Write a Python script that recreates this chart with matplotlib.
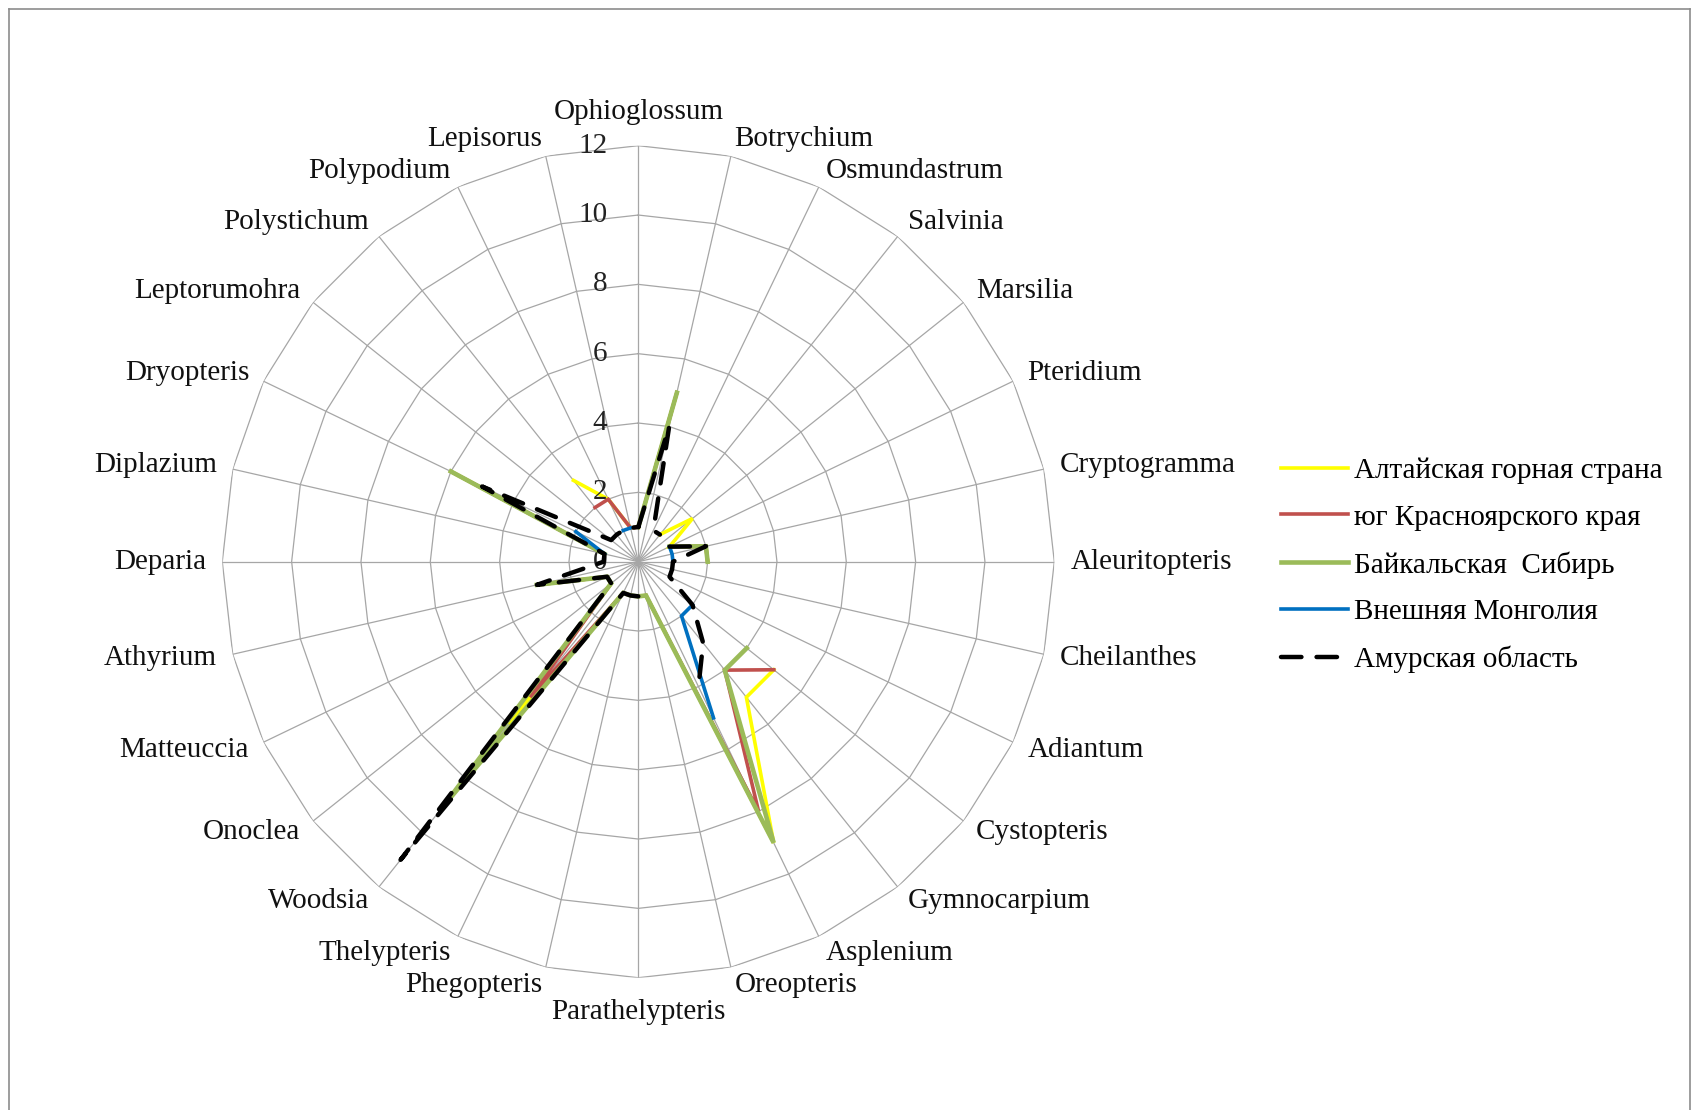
import numpy as np
import matplotlib.pyplot as plt
from matplotlib.lines import Line2D

plt.rcParams['font.family'] = ['Liberation Serif', 'DejaVu Serif']

nan = np.nan

genera = ['Ophioglossum', 'Botrychium', 'Osmundastrum', 'Salvinia', 'Marsilia',
          'Pteridium', 'Cryptogramma', 'Aleuritopteris', 'Cheilanthes', 'Adiantum',
          'Cystopteris', 'Gymnocarpium', 'Asplenium', 'Oreopteris', 'Parathelypteris',
          'Phegopteris', 'Thelypteris', 'Woodsia', 'Onoclea', 'Matteuccia',
          'Athyrium', 'Deparia', 'Diplazium', 'Dryopteris', 'Leptorumohra',
          'Polystichum', 'Polypodium', 'Lepisorus']

altai = [1, 5, nan, 1, 2, 1, 2, 2, nan, nan, 5, 5, 9, 1, 1, 1, 1, 6, 1, 1,
         3, nan, 1, 6, nan, 3, 2, 1]
krasnoyarsk = [1, 5, nan, nan, nan, 1, 2, 2, nan, nan, 5, 4, 8, 1, 1, 1, 1, 5, 1, 1,
               3, nan, 1, 6, nan, 2, 2, 1]
baikal = [1, 5, nan, nan, nan, 1, 2, 2, nan, nan, 4, 4, 9, 1, 1, 1, 1, 9, 1, 1,
          3, nan, 1, 6, nan, nan, nan, nan]
mongolia = [nan, nan, nan, nan, nan, 1, 1, 1, nan, nan, 2, 2, 5, nan, nan, nan, nan, nan, nan, nan,
            nan, nan, 1, 2, nan, nan, 1, 1]
amur = [1, 4, 1, 1, nan, 1, 2, 1, 1, 1, 2, 3, 4, nan, 1, 1, 1, 11, 1, 1,
        3, 1, 1, 5, 1, 1, 1, 1]

series_names = ['Алтайская горная страна', 'юг Красноярского края', 'Байкальская  Сибирь',
                'Внешняя Монголия', 'Амурская область']
r_ticks = [0, 2, 4, 6, 8, 10, 12]

W, H = 1692, 1110
fig = plt.figure(figsize=(W / 100, H / 100), dpi=100)

# chart border
for xs, ys in [([0.0055, 0.0055], [0.0, 0.992]), ([0.0055, 0.999], [0.992, 0.992]),
               ([0.999, 0.999], [0.0, 0.992])]:
    fig.add_artist(Line2D(xs, ys, color='#8c8c8c', lw=1.2, transform=fig.transFigure))

cx, cy, rad = 638.3, 561.7, 416
ax = fig.add_axes([(cx - rad) / W, (H - cy - rad) / H, 2 * rad / W, 2 * rad / H],
                  projection='polar')
ax.set_theta_zero_location('N')
ax.set_theta_direction(-1)
ax.set_ylim(0, 12)
ax.grid(False)
ax.set_xticks([])
ax.set_yticks([])
ax.spines['polar'].set_visible(False)
ax.patch.set_alpha(0)

n = len(genera)
theta = np.arange(n) * 2 * np.pi / n
theta_c = np.append(theta, theta[0])

grid_col = '#a6a6a6'
for r in r_ticks[1:]:
    ax.plot(theta_c, [r] * (n + 1), color=grid_col, lw=0.9, zorder=1)
for t in theta:
    ax.plot([t, t], [0, 12], color=grid_col, lw=0.9, zorder=1)

fs = 21
for r in r_ticks:
    ax.annotate(str(r), (0, r), xytext=(-31, 0), textcoords='offset pixels',
                ha='right', va='center', fontsize=fs, color='#222222')

for t, name in zip(theta, genera):
    s, c = np.sin(t), np.cos(t)
    if abs(s) < 0.01:
        ha = 'center'
        va = 'bottom' if c > 0 else 'top'
        off = (0, 21 * np.sign(c))
    else:
        ha = 'left' if s > 0 else 'right'
        va = 'center'
        off = (16 * s, 18 * c)
    ax.annotate(name, (t, 12), xytext=off, textcoords='offset pixels',
                ha=ha, va=va, fontsize=fs, color='#111111')

def closed(v):
    v = list(v)
    return v + [v[0]]

styles = [
    (altai, '#ffff00', 2.6, '-', 2),
    (krasnoyarsk, '#c0504d', 2.6, '-', 3),
    (baikal, '#9bbb59', 3.3, '-', 4),
    (mongolia, '#0070c0', 2.6, '-', 5),
    (amur, '#000000', 3.2, (0, (4.6, 3.4)), 6),
]
handles = []
for (vals, col, lw, ls, z), name in zip(styles, series_names):
    line, = ax.plot(theta_c, closed(vals), color=col, lw=lw, ls=ls, zorder=z,
                    solid_joinstyle='miter', dash_capstyle='round', label=name)
    handles.append(line)

fig.legend(handles=handles, loc='upper left', bbox_to_anchor=(0.757, 0.588),
           frameon=False, fontsize=fs, handlelength=2.3, handletextpad=0.22,
           labelspacing=0.70, borderpad=0, borderaxespad=0)

fig.savefig('out.png', dpi=100)
